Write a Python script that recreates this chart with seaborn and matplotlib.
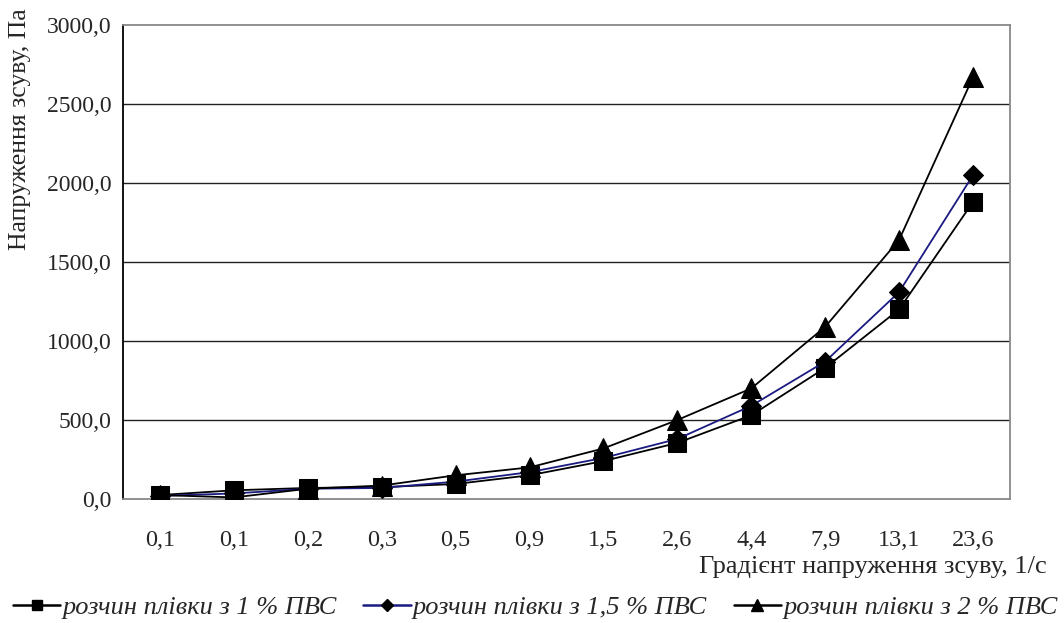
import numpy as np
import pandas as pd
import matplotlib
matplotlib.use("Agg")
import matplotlib.pyplot as plt
from matplotlib.lines import Line2D
import seaborn as sns

# -----------------------------
# Data
# -----------------------------
shear_rate = ["0,1", "0,1", "0,2", "0,3", "0,5", "0,9", "1,5", "2,6", "4,4", "7,9", "13,1", "23,6"]
pva_1 = [25, 55, 70, 75, 95, 150, 240, 355, 530, 830, 1200, 1880]
pva_15 = [20, 35, 65, 70, 110, 170, 260, 380, 590, 870, 1310, 2050]
pva_2 = [25, 10, 65, 85, 150, 200, 320, 500, 700, 1090, 1640, 2670]

labels = ["розчин плівки з 1 % ПВС", "розчин плівки з 1,5 % ПВС", "розчин плівки з 2 % ПВС"]
y_ticks = [0, 500, 1000, 1500, 2000, 2500, 3000]

sns.set_style("white")
plt.rcParams['font.family'] = ['Liberation Serif', 'DejaVu Serif']

pos = np.arange(len(shear_rate))
df = pd.DataFrame({
    'pos': np.tile(pos, 3),
    'value': pva_1 + pva_15 + pva_2,
    'series': np.repeat(labels, len(shear_rate)),
})

fig = plt.figure(figsize=(10.64, 6.23), dpi=100)
ax = fig.add_axes([123 / 1064, 1 - 499 / 623, (1010 - 123) / 1064, (499 - 25) / 623])

# marker, line colour, marker size in plot, marker size in legend
styles = [("s", "black", 13, 7), ("D", "#1a1a80", 10.5, 6), ("^", "black", 14, 8)]
handles = []
for lab, (mk, col, ms, lms) in zip(labels, styles):
    sub = df[df['series'] == lab]
    sns.lineplot(data=sub, x='pos', y='value', ax=ax, color=col, linewidth=1.3,
                 marker=mk, markersize=ms, markerfacecolor='black',
                 markeredgecolor='black', legend=False, zorder=3)
    handles.append(Line2D([], [], color=col, linewidth=1.8, marker=mk,
                          markersize=lms, markerfacecolor='black',
                          markeredgecolor='black'))

# axes range and grid
ax.set_ylim(0, 3000)
ax.set_xlim(-0.5, len(shear_rate) - 0.5)
ax.set_yticks(y_ticks)
ax.set_yticklabels([f"{v:.1f}".replace('.', ',') for v in y_ticks], fontsize=17)
for v in y_ticks[1:-1]:
    ax.axhline(v, color='#222222', linewidth=1.0, zorder=1)

# category axis: ticks between categories, labels at centres
ax.set_xticks(np.arange(-0.5, len(shear_rate), 1.0))
ax.set_xticklabels([])
ax.set_xticks(pos, minor=True)
ax.set_xticklabels(shear_rate, minor=True, fontsize=17.5)
ax.tick_params(axis='x', which='major', length=6, width=1, color='#444444', direction='out')
ax.tick_params(axis='x', which='minor', length=0, pad=22)
ax.tick_params(axis='y', length=5, width=1, color='#222222', direction='out', pad=3)

ax.set_xlabel("")
ax.set_ylabel("")

for side in ['top', 'right', 'bottom']:
    ax.spines[side].set_color('#888888')
    ax.spines[side].set_linewidth(1.3)
ax.spines['left'].set_color('black')
ax.spines['left'].set_linewidth(1.3)

fig.text(1047 / 1064, 1 - 567 / 623, "Градієнт напруження зсуву, 1/с", ha='right', va='center', fontsize=19)
fig.text(20 / 1064, 1 - 8 / 623, "Напруження зсуву, Па", rotation=90, ha='center', va='top', fontsize=18.5)

fig.legend(handles, labels, loc='center', bbox_to_anchor=(0.503, 1 - 607 / 623), ncol=3,
           frameon=False, handlelength=1.8, handletextpad=0.08, columnspacing=1.0,
           prop={'family': 'Liberation Serif', 'style': 'italic', 'size': 19})

fig.savefig("out.png", dpi=100)
